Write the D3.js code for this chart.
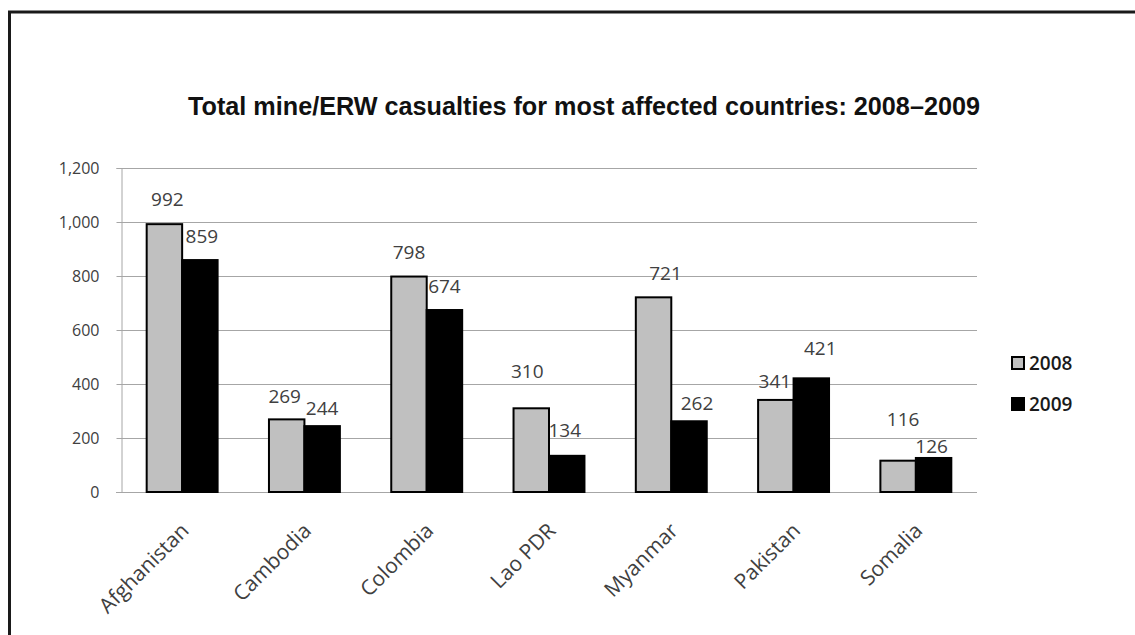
<!DOCTYPE html>
<html>
<head>
<meta charset="utf-8">
<script src="https://cdn.jsdelivr.net/npm/d3@7"></script>
<style>
  html, body { margin: 0; padding: 0; background: #fff; }
  svg { display: block; }
</style>
</head>
<body>
<svg id="chart" width="1135" height="635"></svg>
<script>
// Casualty counts per country
const countries = ["Afghanistan", "Cambodia", "Colombia", "Lao PDR", "Myanmar", "Pakistan", "Somalia"];
const years = ["2008", "2009"];
const casualties2008 = [992, 269, 798, 310, 721, 341, 116];
const casualties2009 = [859, 244, 674, 134, 262, 421, 126];
const yTicks = [0, 200, 400, 600, 800, 1000, 1200];
const titleText = "Total mine/ERW casualties for most affected countries: 2008\u20132009";

// Value-label placement: lift of the baseline above the bar top, and sideways nudge (px)
const labelLift2008 = [18, 16, 18, 30, 17, 12, 35];
const labelLift2009 = [17, 11, 17, 19, 11, 23, 5];
const labelShift2008 = [3, -2, 0, -4, 12, -1, 5];
const labelShift2009 = [2, 0, 0, -2, 8, 9, -2];

const seriesValues = { "2008": casualties2008, "2009": casualties2009 };
const labelLift = { "2008": labelLift2008, "2009": labelLift2009 };
const labelShift = { "2008": labelShift2008, "2009": labelShift2009 };
const fills = { "2008": "#c0c0c0", "2009": "#000000" };

const svg = d3.select("#chart");
const plot = { left: 121, right: 977, top: 168, bottom: 492 };

// Outer frame (top and left edges)
svg.append("path")
  .attr("d", `M9.5,635 V12 H1135`)
  .attr("fill", "none")
  .attr("stroke", "#1a1a1a")
  .attr("stroke-width", 3);

const y = d3.scaleLinear().domain([0, 1200]).range([plot.bottom, plot.top]);
const x0 = d3.scaleBand().domain(countries).range([plot.left, plot.right])
  .paddingInner(0.42).paddingOuter(0.21);
const x1 = d3.scaleBand().domain(years).range([0, x0.bandwidth()]);

// Gridlines
svg.append("g")
  .selectAll("line")
  .data(yTicks.filter(d => d > 0))
  .join("line")
  .attr("x1", plot.left).attr("x2", plot.right)
  .attr("y1", d => Math.round(y(d)) + 0.5).attr("y2", d => Math.round(y(d)) + 0.5)
  .attr("stroke", "#a6a6a6").attr("stroke-width", 1);

// Y axis
const yAxis = d3.axisLeft(y).tickValues(yTicks).tickSize(5).tickPadding(17)
  .tickFormat(d3.format(","));
const yG = svg.append("g").attr("transform", `translate(${plot.left + 0.5},0)`).call(yAxis);
yG.select(".domain").attr("stroke", "#a6a6a6");
yG.selectAll(".tick line").attr("stroke", "#a6a6a6");
yG.selectAll(".tick text")
  .attr("font-family", "'Open Sans', sans-serif")
  .attr("font-size", 16)
  .attr("fill", "#404040");

// X axis baseline
svg.append("line")
  .attr("x1", plot.left - 5).attr("x2", plot.right)
  .attr("y1", plot.bottom + 0.5).attr("y2", plot.bottom + 0.5)
  .attr("stroke", "#a6a6a6");

// Country labels, rotated
svg.append("g")
  .selectAll("text")
  .data(countries)
  .join("text")
  .attr("transform", d => `translate(${x0(d) + x0.bandwidth() / 2 + 8},${plot.bottom + 40}) rotate(-45)`)
  .attr("text-anchor", "end")
  .attr("font-family", "'Open Sans', sans-serif")
  .attr("font-size", 21)
  .attr("fill", "#404040")
  .text(d => d);

// Flattened bar records
const bars = [];
countries.forEach((c, i) => {
  years.forEach(yr => {
    bars.push({ country: c, year: yr, value: seriesValues[yr][i],
                lift: labelLift[yr][i], shift: labelShift[yr][i] });
  });
});

// Value labels (drawn beneath the bars)
svg.append("g")
  .selectAll("text")
  .data(bars)
  .join("text")
  .attr("x", d => x0(d.country) + x1(d.year) + x1.bandwidth() / 2 + d.shift)
  .attr("y", d => y(d.value) - d.lift)
  .attr("text-anchor", "middle")
  .attr("font-family", "'Open Sans', sans-serif")
  .attr("font-size", 19)
  .attr("fill", "#404040")
  .text(d => d.value);

// Bars
svg.append("g")
  .selectAll("rect")
  .data(bars)
  .join("rect")
  .attr("x", d => x0(d.country) + x1(d.year))
  .attr("y", d => y(d.value))
  .attr("width", x1.bandwidth())
  .attr("height", d => y(0) - y(d.value))
  .attr("fill", d => fills[d.year])
  .attr("stroke", "#000")
  .attr("stroke-width", 2);

// Title
svg.append("text")
  .attr("x", 188)
  .attr("y", 115)
  .attr("font-family", "'Liberation Sans Narrow', 'Arial Narrow', 'Liberation Sans', sans-serif")
  .attr("font-weight", "bold")
  .attr("font-size", 26)
  .attr("fill", "#111")
  .attr("textLength", 792)
  .attr("lengthAdjust", "spacingAndGlyphs")
  .text(titleText);

// Legend
const legend = svg.append("g");
years.forEach((yr, i) => {
  const cy = 363 + i * 41;
  legend.append("rect")
    .attr("x", 1012).attr("y", cy - 6)
    .attr("width", 12).attr("height", 12)
    .attr("fill", fills[yr]).attr("stroke", "#000").attr("stroke-width", 2);
  legend.append("text")
    .attr("x", 1029).attr("y", cy)
    .attr("dy", "0.35em")
    .attr("font-family", "'Open Sans', sans-serif")
    .attr("font-size", 19)
    .attr("font-weight", 600)
    .attr("fill", "#1a1a1a")
    .text(yr);
});
</script>
</body>
</html>
